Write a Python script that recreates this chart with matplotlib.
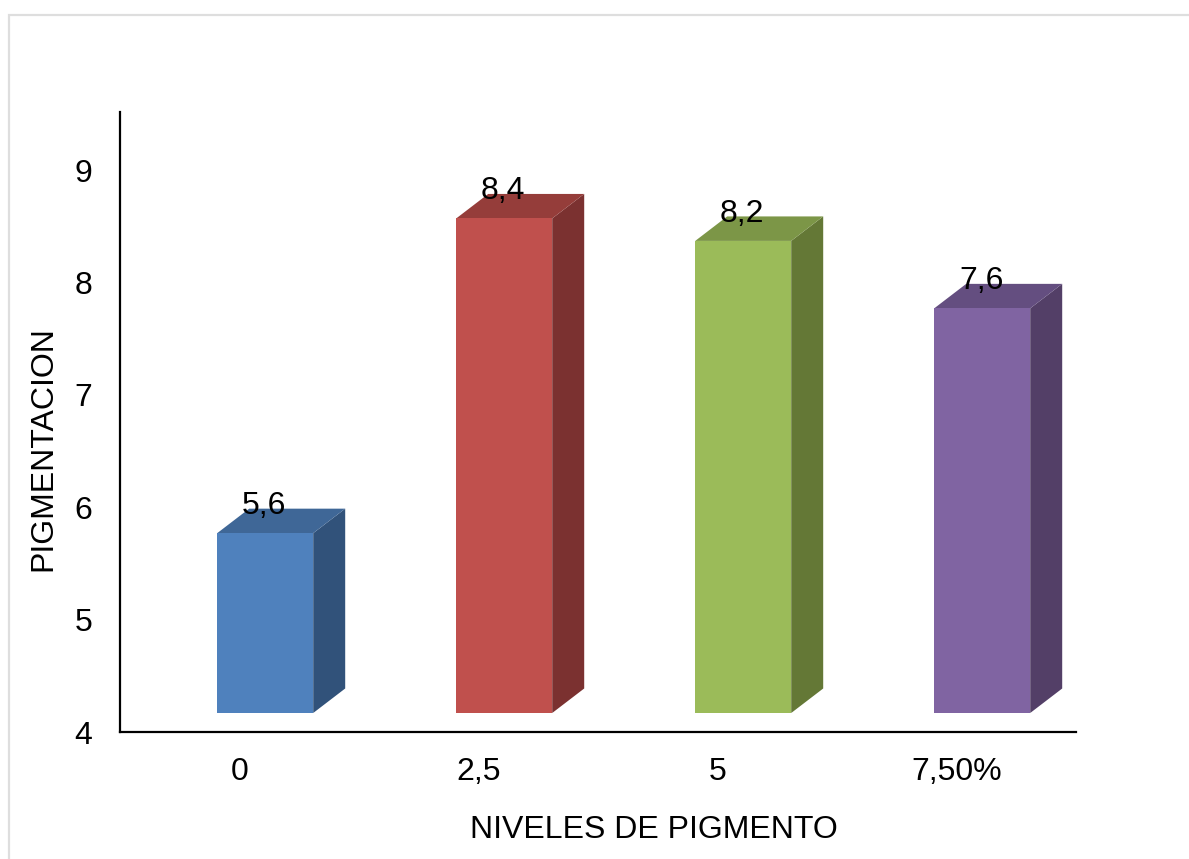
import matplotlib
matplotlib.use("Agg")
import matplotlib.pyplot as plt
from matplotlib.patches import Polygon, Rectangle

plt.rcParams['font.family'] = ['Liberation Sans', 'DejaVu Sans']

categories = ["0", "2,5", "5", "7,50%"]
values = [5.6, 8.4, 8.2, 7.6]
value_labels = ["5,6", "8,4", "8,2", "7,6"]
front_colors = ["#4F81BD", "#C0504D", "#9BBB59", "#8064A2"]
top_colors = ["#3F6797", "#953D3A", "#7C9647", "#644E80"]
side_colors = ["#31527A", "#7B3130", "#647836", "#533F67"]
y_ticks = [4, 5, 6, 7, 8, 9]

FONT = 23.05
W, H = 1189, 859
fig = plt.figure(figsize=(W / 100, H / 100), dpi=100, facecolor="white")

# Thin outer frame of the chart area
fig.add_artist(Rectangle((9 / W, -0.01), 1.1, 1 - 15 / H + 0.01, transform=fig.transFigure,
                         fill=False, edgecolor="#DEDEDE", linewidth=1.6))

left, right, bottom, top = 120, 1076, 732, 112
ax = fig.add_axes([left / W, 1 - bottom / H, (right - left) / W, (bottom - top) / H])
ax.set_xlim(0, 4)
unit = 112.4
ax.set_ylim(4, 4 + (bottom - top) / unit)

# Pseudo-3D geometry of the column shape, in data units
px_x = (right - left) / 4
bar_w = 96 / px_x
depth_x = 32 / px_x
depth_y = 24.5 / unit
floor = 19 / unit
shift = (217.2 - 120) / px_x

for i, v in enumerate(values):
    x0 = i + shift
    x1 = x0 + bar_w
    y0 = 4 + floor
    y1 = v + floor
    ax.add_patch(Polygon([(x1, y0), (x1 + depth_x, y0 + depth_y), (x1 + depth_x, y1 + depth_y), (x1, y1)],
                         facecolor=side_colors[i], edgecolor="none", zorder=2))
    ax.add_patch(Polygon([(x0, y1), (x1, y1), (x1 + depth_x, y1 + depth_y), (x0 + depth_x, y1 + depth_y)],
                         facecolor=top_colors[i], edgecolor="none", zorder=2))
    ax.add_patch(Rectangle((x0, y0), bar_w, v - 4, facecolor=front_colors[i], edgecolor="none", zorder=3))
    ax.text(x0 + 47 / px_x, y1 + 27 / unit, value_labels[i], ha="center", va="center",
            fontsize=FONT, color="black", zorder=4)

for side in ("top", "right"):
    ax.spines[side].set_visible(False)
for side in ("left", "bottom"):
    ax.spines[side].set_linewidth(1.6)
    ax.spines[side].set_color("black")

ax.set_xticks([i + 0.5 for i in range(4)])
ax.set_xticklabels(categories)
ax.set_yticks(y_ticks)
ax.tick_params(axis="both", length=0, labelsize=FONT, colors="black")
ax.tick_params(axis="x", pad=18)
ax.tick_params(axis="y", pad=20)
ax.patch.set_alpha(0)

fig.text(653.5 / W, 1 - 830.5 / H, "NIVELES DE PIGMENTO", ha="center", va="center", fontsize=FONT)
fig.text(43 / W, 1 - 449 / H, "PIGMENTACION", ha="center", va="center", rotation=90, fontsize=FONT)

fig.savefig("out.png", dpi=100)
